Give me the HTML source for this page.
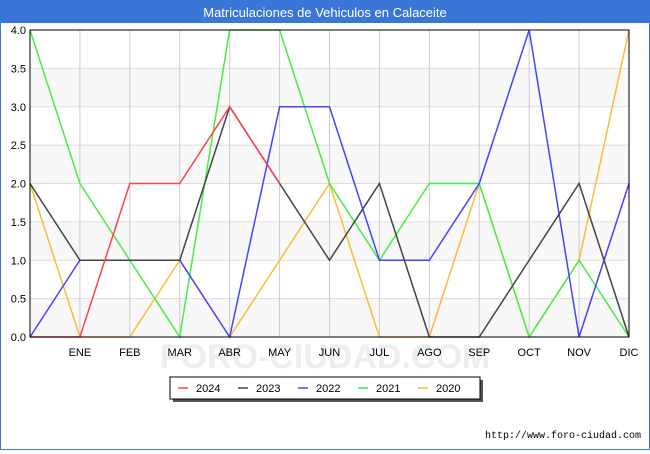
<!DOCTYPE html>
<html><head><meta charset="utf-8"><style>
body{margin:0;background:#fff;font-family:"Liberation Sans","DejaVu Sans",sans-serif}
#wrap{position:relative;width:648px;height:448px;border:1px solid #3a76d8;background:#fff}
</style></head><body>
<div id="wrap">
<svg id="chart" width="648" height="448" xmlns="http://www.w3.org/2000/svg">
<rect x="0" y="0" width="648" height="22" fill="#3a76d8"/>
<text x="324" y="16" text-anchor="middle" fill="#fff" font-size="13">Matriculaciones de Vehiculos en Calaceite</text>
<text x="324" y="367" text-anchor="middle" fill="#eeeeee" font-size="34" font-weight="bold">FORO-CIUDAD.COM</text>
<g id="grid"></g><g id="series"></g><g id="axes"></g>
<g>
<rect x="172" y="379" width="310" height="22" fill="#555"/>
<rect x="169" y="376" width="310" height="22" fill="#fff" stroke="#000" stroke-width="1"/>
<g id="legend"></g></g>
<text x="640" y="437" text-anchor="end" font-size="10" font-family="Liberation Mono,monospace" fill="#000">http://www.foro-ciudad.com</text>
</svg></div>
<script>
const categories=["","ENE","FEB","MAR","ABR","MAY","JUN","JUL","AGO","SEP","OCT","NOV","DIC"];
const seriesNames=["2024","2023","2022","2021","2020"];
const seriesColors=["#ff4444","#444444","#4444ff","#44ee44","#ffbb33"];
const s2024=[0,0,2,2,3,2];
const s2023=[2,1,1,1,3,2,1,2,0,0,1,2,0];
const s2022=[0,1,1,1,0,3,3,1,1,2,4,0,2];
const s2021=[4,2,1,0,4,4,2,1,2,2,0,1,0];
const s2020=[2,0,0,1,0,1,2,0,0,2,0,1,4];
const yTicks=["0.0","0.5","1.0","1.5","2.0","2.5","3.0","3.5","4.0"];
const yMax=4;
const X0=29,X1=628,Y0=336,Y1=29;
const NS="http://www.w3.org/2000/svg";
const xs=i=>X0+(X1-X0)*i/(categories.length-1);
const ys=v=>Y0-(Y0-Y1)*v/yMax;
function mk(t,a,p){const e=document.createElementNS(NS,t);for(const k in a)e.setAttribute(k,a[k]);p.appendChild(e);return e;}
const grid=document.getElementById('grid'),axes=document.getElementById('axes'),ser=document.getElementById('series'),leg=document.getElementById('legend');
yTicks.forEach((t,i)=>{const v=parseFloat(t);
 if(i<yTicks.length-1&&i%2==0){const b=mk('rect',{x:X0,y:ys(v+0.5),width:X1-X0,height:ys(v)-ys(v+0.5),fill:'#f8f8f8'},grid);}
 const l=mk('line',{x1:X0,x2:X1,y1:ys(v),y2:ys(v),stroke:'#dddddd'},grid);
 
 
 const tx=mk('text',{x:X0-4,y:ys(v)+4,'text-anchor':'end','font-size':'11',fill:'#000'},axes);tx.textContent=t;
 
 
});
categories.forEach((c,i)=>{
 const l=mk('line',{x1:xs(i),x2:xs(i),y1:Y1,y2:Y0,stroke:'#cccccc'},grid);
 
 
 if(c){const tx=mk('text',{x:xs(i),y:Y0+19,'text-anchor':'middle','font-size':'11',fill:'#000'},axes);tx.textContent=c;
 
 }
});
const frame=mk('rect',{x:X0,y:Y1,width:X1-X0,height:Y0-Y1,fill:'none',stroke:'#000'},axes);


const data=[s2024,s2023,s2022,s2021,s2020];
for(let k=data.length-1;k>=0;k--){
 const pts=data[k].map((v,i)=>xs(i)+','+ys(v)).join(' ');
 const pl=mk('polyline',{points:pts,fill:'none',stroke:seriesColors[k],'stroke-width':'1.5'},ser);
 
 
}
seriesNames.forEach((n,k)=>{const x=177+k*60;
 const l=mk('line',{x1:x,x2:x+10,y1:387,y2:387,stroke:seriesColors[k],'stroke-width':'1.5'},leg);
 
 
 const t=mk('text',{x:x+18,y:391,'font-size':'11',fill:'#000'},leg);t.textContent=n;
 
 
});
</script></body></html>
